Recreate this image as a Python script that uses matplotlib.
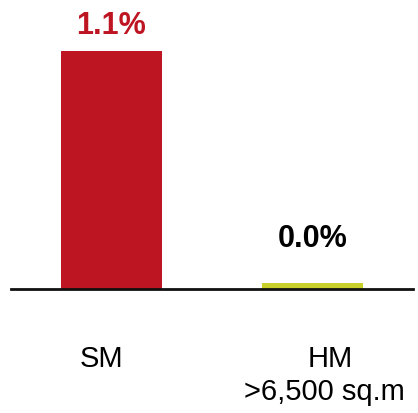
import matplotlib
matplotlib.use("Agg")
import matplotlib.pyplot as plt
import matplotlib.transforms as mtransforms

categories = ["SM", "HM\n>6,500 sq.m"]
values = [1.1, 0.03]
value_labels = ["1.1%", "0.0%"]
colors = ["#BE1522", "#C8D02A"]
label_colors = ["#BE1522", "#000000"]

W, H = 418, 414
fig = plt.figure(figsize=(W / 100, H / 100), dpi=100)
ax = fig.add_axes([11 / W, 124 / H, 402 / W, 290 / H])

x = list(range(len(categories)))
bars = ax.bar(x, values, width=0.5, color=colors, zorder=2)
ax.set_xlim(-0.5, 1.5)
ax.set_ylim(0, 1.34)

for s in ["top", "right", "left"]:
    ax.spines[s].set_visible(False)
ax.spines["bottom"].set_linewidth(2)
ax.spines["bottom"].set_color("#111111")
ax.set_yticks([])
ax.set_xticks([])

font = "Liberation Sans"
label_offsets = [18, 37]
for xi, v, lab, c, off in zip(x, values, value_labels, label_colors, label_offsets):
    ax.annotate(lab, (xi, v), xytext=(0, off * 72 / 100), textcoords="offset points",
                ha="center", va="baseline", fontsize=22, fontweight="bold",
                color=c, family=font)

# category labels below axis (one text per line)
trans = ax.get_xaxis_transform()
line_shifts = [[-10], [18, 12]]
line_drops = [77, 110]
for xi, cat, shifts in zip(x, categories, line_shifts):
    for li, (line, sh) in enumerate(zip(cat.split("\n"), shifts)):
        t = trans + mtransforms.ScaledTranslation(sh / 100, -line_drops[li] / 100,
                                                  fig.dpi_scale_trans)
        ax.text(xi, 0, line, transform=t, ha="center", va="baseline", fontsize=21,
                color="black", family=font)

fig.savefig("out.png", dpi=100)
